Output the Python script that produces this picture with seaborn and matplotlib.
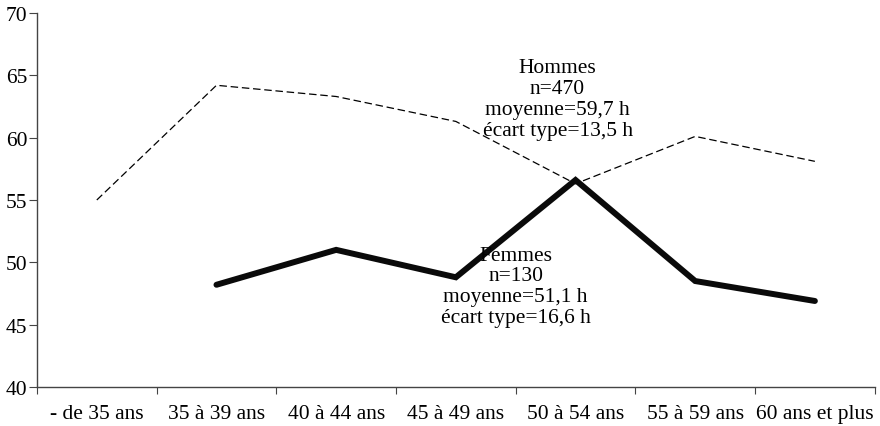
import numpy as np
import pandas as pd
import matplotlib
matplotlib.use("Agg")
import matplotlib.pyplot as plt
import seaborn as sns
from matplotlib.ticker import FixedLocator, NullFormatter

categories = ["- de 35 ans", "35 à 39 ans", "40 à 44 ans", "45 à 49 ans",
              "50 à 54 ans", "55 à 59 ans", "60 ans et plus"]
hommes = [55.0, 64.2, 63.3, 61.3, 56.3, 60.1, 58.1]
femmes = [np.nan, 48.2, 51.0, 48.8, 56.6, 48.5, 46.9]
hommes_label = "Hommes\nn=470\nmoyenne=59,7 h\nécart type=13,5 h"
femmes_label = "Femmes\nn=130\nmoyenne=51,1 h\nécart type=16,6 h"

sns.set_style("white")
plt.rcParams["font.family"] = ["Liberation Serif", "DejaVu Serif"]
plt.rcParams["text.color"] = "black"
plt.rcParams["xtick.color"] = "black"
plt.rcParams["ytick.color"] = "black"

FS = 15.5

pos = np.arange(len(categories))
df = pd.DataFrame({"pos": pos, "Hommes": hommes, "Femmes": femmes})

fig = plt.figure(figsize=(8.8, 4.27), dpi=100)
ax = fig.add_axes([0.042, 0.0913, 0.952, 0.876])

sns.lineplot(data=df, x="pos", y="Hommes", ax=ax, color="black", lw=0.9,
             dashes=False, linestyle=(0, (6, 3)))
sns.lineplot(data=df.dropna(), x="pos", y="Femmes", ax=ax, color="#0a0a0a", lw=4.3,
             solid_joinstyle="miter")

ax.set_xlim(-0.5, len(categories) - 0.5)
ax.set_ylim(40, 70)
ax.set_yticks([40, 45, 50, 55, 60, 65, 70])
ax.xaxis.set_major_locator(FixedLocator(np.arange(len(categories) + 1) - 0.5))
ax.xaxis.set_major_formatter(NullFormatter())
ax.xaxis.set_minor_locator(FixedLocator(pos))
ax.set_xticklabels(categories, minor=True)
ax.tick_params(axis="x", which="minor", length=0, pad=12, labelsize=FS)
ax.tick_params(axis="x", which="major", length=5, direction="out", bottom=True, color="#444444")
ax.tick_params(axis="y", length=6, direction="out", left=True, labelsize=FS, pad=1, color="#444444")
ax.set_xlabel("")
ax.set_ylabel("")
for s in ["top", "right"]:
    ax.spines[s].set_visible(False)
for s in ["left", "bottom"]:
    ax.spines[s].set_color("#444444")
    ax.spines[s].set_linewidth(1)

ax.text(3.85, 63.1, hommes_label, ha="center", va="center", fontsize=FS, linespacing=1.12)
ax.text(3.5, 48.1, femmes_label, ha="center", va="center", fontsize=FS, linespacing=1.12)

fig.savefig("out.png", dpi=100)
